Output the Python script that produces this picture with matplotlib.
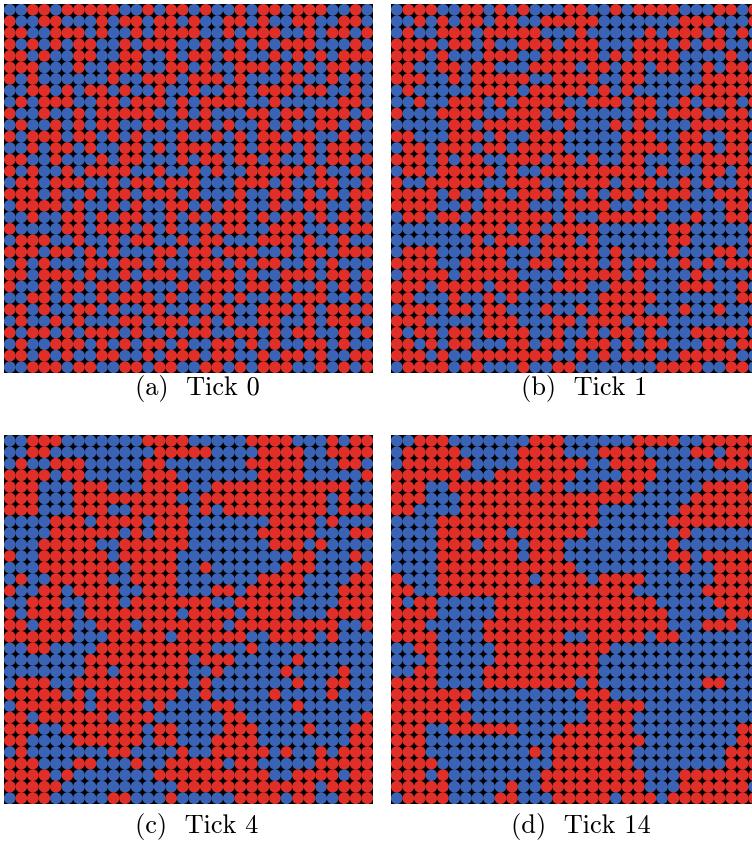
import numpy as np
import matplotlib
matplotlib.use('Agg')
import matplotlib.pyplot as plt
from matplotlib.collections import EllipseCollection

# '#' = red agent, '.' = blue agent, 32 x 32 grid, row 0 at the top
tick0 = [
    "..##.#####..#.##.#..#.##.###..#.",
    "#..##...#.##.##.#..##.#..##..##.",
    "##..###.#..#.####..#.###..#.##.#",
    "#.#.#.##..#.###..#..#.#.###...#.",
    "##.#..##..##..#.##.##..#.#.#.###",
    "###...#..###..##.#..###.#.#.##..",
    "#.#......#..###.###.#...##..#.#.",
    "..##.#.##.#..#..#..##.###.##..#.",
    ".#.###..##.###.#.####..#.....##.",
    "#..#..#.#####..#.#...##.##.###.#",
    ".#..#.#.##..##..##.#..#.#..##.#.",
    "#.###.##.#.#...#..#.#.##.##..#..",
    "..#.##.#..##.#.###..#.###.#.###.",
    "##..#...#.##...#.##.##.#..#.##.#",
    "#.#..#.####..#..#.#..#####.#..#.",
    ".##.###..#.##.###...###.#..##..#",
    "###.#..#.##.###.#...#..##.#.#.##",
    ".####.#..#.#..##.#.##..#..##..#.",
    "..#..##.#.##..#.#.###.#.##.#.##.",
    "#....##.###.#.#..#.##..###..#.##",
    ".###..#..#.##..#.##...###.#..#..",
    "###.##.#.#...##.##.###..#.##.###",
    ".#.#...##.##.#..###.#.##..#.#...",
    "##.###.#..#.###.#.##.#..###.##.#",
    "#..#.##.##.#...#.###.##.#..#.#.#",
    "..##.#..#.###.#..##.#..#.###..#.",
    "##.#..##.#..##..#.##..###.#.##.#",
    ".#..#.#...##.###.#.#..##..#.###.",
    "#.##.#.###.#..#.##..##.#.##..#.#",
    ".#..###.#.#.##.#..##.#.#..##.#..",
    "##.#.#..##..#.###.##..#.##.#..##",
    "..###.##..##.##..##.#.###..#.#.#",
]

tick1 = [
    ".###..##.#.#...##..#.####...##.#",
    "..#.#.##.##..#####.......###...#",
    ".#..###.#####...#.....#.###.#.#.",
    "####.##.#..###.###...###.#.##..#",
    "###.#...###..#####.#.####....#..",
    "##..##.##...####.##.##.##..#.##.",
    "###..#.#####..####..##.....#####",
    ".#.....####.#####.#.#.....######",
    "..#..###.#.####..###.##..#.###.#",
    "#...####..###.##.....##.###..##.",
    ".....##.#####..#...#.#....######",
    "##...###.#..###.....###..##..##.",
    ".##.###.##.####.....####.###.##.",
    "###.#.##..###.##.#..##...#.####.",
    ".##.#####.#..#########.#...##.##",
    "#..#####..###..####.###..#.#..##",
    "####.#..##.###.#.#.##.####..###.",
    "####..#.####...####..###.....##.",
    ".##.##.#######.#..#####...#..##.",
    "......####.##.####......##.....#",
    ".......#.###.###.#......##.....#",
    ".###...###...#####.#....#...##.#",
    "####..####..##.###.#.##..#.#.###",
    ".####.#####....#####.#....#....#",
    "###.####.###..###..###...###..#.",
    "##...#..#.#.......#####.......##",
    ".###.##.##...#..#.####...#..#...",
    "###.....###...##.###.###.......#",
    "#.##.##.####..#..#.##.#...#####.",
    "##.#.##...##.##.###.#.##...##.##",
    "###.#..#######..#.#.###..#####..",
    ".####.##...#..##.......####..##.",
]

tick4 = [
    "..###.......####.....####...#.##",
    "..##.........#####....####..####",
    ".#..###.....##.......#####...##.",
    "####.##.....###.......####.....#",
    "###...###...####..############..",
    "###...#########..###########.#..",
    "###...###..#####.#.#########.###",
    "....###.####.###.......####.#...",
    "....######.#.###......#####...##",
    "...#####..######.......###.#....",
    "#..######.#####..........##...#.",
    "...#######.####..#......###....#",
    ".#..#####..####.......####....##",
    "#..##.####..###...##.#####...###",
    "..###..###.#######..#####....###",
    "#.####.########.####.####...####",
    "##.###..###.#######.#########..#",
    "######...#####.######..####.#...",
    "..##....##########...#..........",
    ".......#########.###.....#......",
    ".......##.######..#.....#....#..",
    ".###..##########.#.......#..##..",
    "#####.#.#######..#.....#....#...",
    ".######.####.#....##.....#......",
    "##.######.###......##..........#",
    "###..#######.##....###....#...##",
    "##....######.##...####........##",
    ".#.......##....#..#####.#..#.###",
    "###...##...#..#####.##.....#####",
    "####.#.......##########..####.##",
    "#####..........############.####",
    ".###.....##...#.....####.##..###",
]

tick14 = [
    "..###.......###......####..#####",
    ".#####.....####...####....##.###",
    ".######....######..####.....###.",
    "######...#######....###.........",
    "###..#######.##...####.....####.",
    "###...###############.....######",
    "##....############.......#######",
    "....##############......########",
    "....######.######........#......",
    "....###.###.###.........#.......",
    "....#######.###.........##.#####",
    "....############.........#..####",
    "#...########.####.####......####",
    "##..#################......#####",
    "#.##.....##############.....####",
    "####.....###############.....###",
    "###.....################...###..",
    "####....#######..#####.##.......",
    "..##.....##########.............",
    "...#.....#########..............",
    "..##....##########..............",
    "####....########.#.........##...",
    "#######.........###.............",
    "######...........#####..........",
    "#######..........####...........",
    "###..######....######.........##",
    "###...........########........##",
    "###.........#.#######........###",
    "####..........#######........###",
    "###.#........#########...#######",
    "#####.....#..#########...######.",
    ".####....##...#####.###.########",
]

grids = [tick0, tick1, tick4, tick14]
labels = ["(a)  Tick 0", "(b)  Tick 1", "(c)  Tick 4", "(d)  Tick 14"]

red = '#df2f28'
blue = '#3a63b5'

W, H = 752, 843
pitch = 11.53
n = 32
# panel top-left corners in pixels, label centres in pixels
corners = [(4, 4), (391, 4), (4, 435), (391, 435)]
label_pos = [(197, 388), (584, 388), (197, 826), (581, 826)]

fig = plt.figure(figsize=(W / 100, H / 100), dpi=100)

for grid, (px, py) in zip(grids, corners):
    for row in grid:
        assert len(row) == n, row
    assert len(grid) == n
    cells = np.array([[c == '#' for c in row] for row in grid])
    size = n * pitch
    ax = fig.add_axes([px / W, 1 - (py + size) / H, size / W, size / H])
    ax.set_facecolor('black')
    ax.set_xlim(-0.5, n - 0.5)
    ax.set_ylim(n - 0.5, -0.5)
    ax.set_axis_off()
    ax.add_patch(plt.Rectangle((-0.5, -0.5), n, n, color='black', zorder=0))
    yy, xx = np.mgrid[0:n, 0:n]
    colors = np.where(cells.ravel(), red, blue)
    d = np.full(n * n, 1.02)
    ec = EllipseCollection(d, d, np.zeros(n * n), units='xy',
                           offsets=np.column_stack([xx.ravel(), yy.ravel()]),
                           offset_transform=ax.transData,
                           facecolors=colors, edgecolors='none')
    ax.add_collection(ec)

for text, (lx, ly) in zip(labels, label_pos):
    fig.text(lx / W, 1 - ly / H, text, ha='center', va='center',
             fontsize=19, family='cmr10')

fig.savefig('out.png', dpi=100)
